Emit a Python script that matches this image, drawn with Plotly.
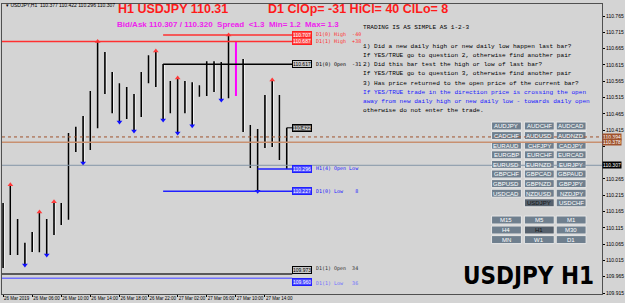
import plotly.graph_objects as go

# ---------------- data ----------------
bar_idx = list(range(40))  # H1 bars, 26 Mar 2019 02:00 .. 27 Mar 2019 17:00
opens = [110.078, 110.176, 110.090, 110.038, 110.053, 110.044, 110.139, 110.133, 110.191, 110.145,
         110.375, 110.369, 110.409, 110.474, 110.651, 110.575, 110.486, 110.510, 110.458, 110.523,
         110.590, 110.621, 110.617, 110.523, 110.566, 110.544, 110.550, 110.538, 110.547, 110.624,
         110.596, 110.535, 110.688, 110.535, 110.431, 110.305, 110.415, 110.461, 110.394, 110.377]
highs = [110.191, 110.247, 110.142, 110.069, 110.102, 110.164, 110.142, 110.195, 110.191, 110.406,
         110.425, 110.458, 110.535, 110.687, 110.655, 110.593, 110.559, 110.547, 110.526, 110.593,
         110.645, 110.658, 110.618, 110.566, 110.575, 110.566, 110.562, 110.553, 110.626, 110.626,
         110.624, 110.707, 110.688, 110.633, 110.431, 110.418, 110.523, 110.569, 110.523, 110.422]
lows = [109.992, 110.032, 110.032, 110.001, 110.041, 110.040, 110.032, 110.093, 110.124, 110.140,
        110.348, 110.314, 110.354, 110.421, 110.526, 110.467, 110.440, 110.449, 110.412, 110.455,
        110.559, 110.547, 110.446, 110.467, 110.406, 110.467, 110.428, 110.517, 110.520, 110.532,
        110.507, 110.513, 110.520, 110.409, 110.299, 110.227, 110.360, 110.363, 110.323, 110.296]
closes = [110.176, 110.090, 110.038, 110.053, 110.044, 110.139, 110.133, 110.191, 110.145, 110.375,
          110.369, 110.409, 110.474, 110.651, 110.575, 110.486, 110.510, 110.458, 110.523, 110.590,
          110.621, 110.618, 110.523, 110.566, 110.544, 110.550, 110.538, 110.547, 110.624, 110.596,
          110.535, 110.688, 110.535, 110.431, 110.305, 110.415, 110.461, 110.394, 110.377, 110.307]
highlight_bar = 32
fractal_up = [1, 5, 7, 13, 21, 24, 31, 37]
fractal_down = [3, 6, 11, 16, 18, 22, 24, 26, 30, 35]

x_tick_idx = [0, 4, 8, 12, 16, 20, 24, 28, 32, 36]
x_tick_text = ["26 Mar 2019", "26 Mar 06:00", "26 Mar 10:00", "26 Mar 14:00", "26 Mar 18:00",
               "26 Mar 22:00", "27 Mar 02:00", "27 Mar 06:00", "27 Mar 10:00", "27 Mar 14:00"]
y_ticks = [109.915, 109.965, 110.015, 110.065, 110.115, 110.165, 110.215, 110.265, 110.315,
           110.365, 110.415, 110.465, 110.515, 110.565, 110.615, 110.665, 110.715, 110.765]
y_hidden_labels = [110.315, 110.365]  # covered by price boxes on the axis

bid, ask = 110.307, 110.320
pivot_dotted = 110.394
pivot_solid = 110.378

# level lines: (name, price, start bar, color, box style, vertical anchor)
levels = [
    ("D1(0) High  -40", 110.707, 22, "#ff3030", "red", "middle"),
    ("D1(1) High  +38", 110.687, -0.3, "#ff3030", "red", "middle"),
    ("D1(0) Open  -31", 110.617, 22, "#000000", "black", "middle"),
    ("H1(4) Open Low", 110.296, 35, "#2020ff", "blue", "middle"),
    ("D1(0) Low    8", 110.227, 22, "#2020ff", "blue", "middle"),
    ("D1(1) Open  34", 109.973, -0.3, "#303030", "black", "bottom"),
    ("D1(1) Low   36", 109.960, -0.3, "#7070ff", "blue", "top"),
]
last_high = 110.422

pairs = [["AUDJPY", "AUDCHF", "AUDCAD"], ["CADCHF", "AUDUSD", "AUDNZD"], ["EURAUD", "CHFJPY", "CADJPY"],
         ["EURGBP", "EURCHF", "EURCAD"], ["EURUSD", "EURNZD", "EURJPY"], ["GBPCHF", "GBPCAD", "GBPAUD"],
         ["GBPUSD", "GBPNZD", "GBPJPY"], ["USDCAD", "NZDUSD", "NZDJPY"], [None, "USDJPY", "USDCHF"]]
timeframes = [["M15", "M5", "M1"], ["H4", "H1", "M30"], ["MN", "W1", "D1"]]

info_lines = [
    ("TRADING IS AS SIMPLE AS 1-2-3", "#000000"),
    ("", "#000000"),
    ("1) Did a new daily high or new daily low happen last bar?", "#000000"),
    ("If YES/TRUE go to question 2, otherwise find another pair", "#000000"),
    ("2) Did this bar test the high or low of last bar?", "#000000"),
    ("If YES/TRUE go to question 3, otherwise find another pair", "#000000"),
    ("3) Has price returned to the open price of the current bar?", "#000000"),
    ("If YES/TRUE trade in the direction price is crossing the open", "#1a1aff"),
    ("away from new daily high or new daily low - towards daily open", "#1a1aff"),
    ("otherwise do not enter the trade.", "#000000"),
]

# ---------------- layout geometry (pixels) ----------------
W, H = 625, 303
L, R, T, B = 1, 604, 4, 294
PX_PER_BAR = 7.31
x0 = -0.15
x1 = x0 + (R - L) / PX_PER_BAR
y_lo, y_hi = 109.912, 110.802


def pxx(x):
    return (x - L) / (R - L)


def pyy(y):
    return (B - y) / (B - T)


BG = "#d4d4d4"
fig = go.Figure()

norm = [i for i in bar_idx if i != highlight_bar]
fig.add_trace(go.Ohlc(
    x=[i + 0.14 for i in norm], open=[opens[i] for i in norm], high=[highs[i] for i in norm],
    low=[lows[i] for i in norm], close=[closes[i] for i in norm],
    increasing=dict(line=dict(color="#ffffff", width=1)),
    decreasing=dict(line=dict(color="#ffffff", width=1)),
    tickwidth=0.35, hoverinfo="skip", showlegend=False))
fig.add_trace(go.Ohlc(
    x=norm, open=[opens[i] for i in norm], high=[highs[i] for i in norm],
    low=[lows[i] for i in norm], close=[closes[i] for i in norm],
    increasing=dict(line=dict(color="#000000", width=1.6)),
    decreasing=dict(line=dict(color="#000000", width=1.6)),
    tickwidth=0.35, hoverinfo="skip", showlegend=False))
fig.add_trace(go.Ohlc(
    x=[highlight_bar, highlight_bar + 0.01], open=[opens[highlight_bar]] * 2, high=[highs[highlight_bar]] * 2,
    low=[lows[highlight_bar]] * 2, close=[closes[highlight_bar]] * 2,
    increasing=dict(line=dict(color="#ff00ff", width=1.8)),
    decreasing=dict(line=dict(color="#ff00ff", width=1.8)),
    tickwidth=0.35, hoverinfo="skip", showlegend=False))

fig.add_trace(go.Scatter(
    x=fractal_up, y=[highs[i] for i in fractal_up], mode="markers",
    marker=dict(symbol="triangle-up", size=5, color="#ff3b3b", line=dict(width=0)),
    hoverinfo="skip", showlegend=False))
fig.add_trace(go.Scatter(
    x=fractal_down, y=[lows[i] for i in fractal_down], mode="markers",
    marker=dict(symbol="triangle-down", size=5, color="#1010ff", line=dict(width=0)),
    hoverinfo="skip", showlegend=False))

shapes = []
ann = []

shapes.append(dict(type="line", xref="paper", yref="y", x0=0, x1=1, y0=pivot_dotted, y1=pivot_dotted,
                   line=dict(color="#a0522d", width=1, dash="dot")))
shapes.append(dict(type="line", xref="paper", yref="y", x0=0, x1=1, y0=pivot_solid, y1=pivot_solid,
                   line=dict(color="#c89070", width=1.5)))
shapes.append(dict(type="line", xref="paper", yref="y", x0=0, x1=1, y0=bid, y1=bid,
                   line=dict(color="#8496a8", width=1)))

END_X = 39.75
box_styles = {
    "red": dict(bgcolor="#ff4a4a", bordercolor="#ff2020", color="#ffffff"),
    "black": dict(bgcolor="#c8c8c8", bordercolor="#000000", color="#000000"),
    "blue": dict(bgcolor="#4a4aff", bordercolor="#2020ff", color="#ffffff"),
}
for name, price, start, color, style, va in levels:
    shapes.append(dict(type="line", xref="x", yref="y", x0=start, x1=END_X, y0=price, y1=price,
                       line=dict(color=color, width=1.5)))
    st = box_styles[style]
    ann.append(dict(xref="x", yref="y", x=END_X, y=price, xanchor="left", yanchor=va,
                    text=f"{price:.3f}", showarrow=False, bgcolor=st["bgcolor"], bordercolor=st["bordercolor"],
                    borderwidth=1, borderpad=0, font=dict(family="Liberation Sans", size=5, color=st["color"])))
    ann.append(dict(xref="x", yref="y", x=42.8, y=price, xanchor="left", yanchor=va,
                    text=name.replace(" ", "&nbsp;"), showarrow=False,
                    font=dict(family="DejaVu Sans Mono", size=5, color=color)))

shapes.append(dict(type="line", xref="x", yref="y", x0=39, x1=END_X, y0=last_high, y1=last_high,
                   line=dict(color="#000000", width=1)))
ann.append(dict(xref="x", yref="y", x=END_X, y=last_high, xanchor="left", yanchor="middle",
                text=f"{last_high:.3f}", showarrow=False, bgcolor="#5a5a5a", bordercolor="#000000",
                borderwidth=1, borderpad=0, font=dict(family="Liberation Sans", size=5, color="#ffffff")))

for price, bg, va in [(pivot_dotted, "#a0522d", "bottom"), (pivot_solid, "#a0522d", "top"),
                      (bid, "#000000", "middle")]:
    ann.append(dict(xref="paper", yref="y", x=1.0, y=price, xanchor="left", yanchor="middle",
                    text=f"{price:.3f}", showarrow=False, bgcolor=bg, borderpad=0,
                    font=dict(family="Liberation Sans", size=5, color="#ffffff")))

ann.append(dict(xref="paper", yref="paper", x=pxx(3), y=pyy(5.5), xanchor="left", yanchor="middle",
                text="▾ USDJPY,H1  110.377 110.422 110.296 110.307", showarrow=False,
                font=dict(family="Liberation Sans", size=5, color="#000000")))
ann.append(dict(xref="paper", yref="paper", x=pxx(116), y=pyy(9.5), xanchor="left", yanchor="middle",
                text="<b>H1 USDJPY 110.31</b>", showarrow=False,
                font=dict(family="Liberation Sans", size=12.5, color="#ff1a1a")))
ann.append(dict(xref="paper", yref="paper", x=pxx(266), y=pyy(9.5), xanchor="left", yanchor="middle",
                text="<b>D1 ClOp= -31 HiCl= 40 ClLo= 8</b>", showarrow=False,
                font=dict(family="Liberation Sans", size=12.5, color="#ff1a1a")))
ann.append(dict(xref="paper", yref="paper", x=pxx(115), y=pyy(24), xanchor="left", yanchor="middle",
                text="<b>Bid/Ask 110.307 / 110.320&nbsp;&nbsp;Spread&nbsp;&nbsp;&lt;1.3&nbsp;&nbsp;Min= 1.2&nbsp;&nbsp;Max= 1.3</b>",
                showarrow=False, font=dict(family="Liberation Sans", size=8, color="#ee22ee")))

for k, (line, col) in enumerate(info_lines):
    if not line:
        continue
    ann.append(dict(xref="paper", yref="paper", x=pxx(362), y=pyy(27.5 + 9.26 * k), xanchor="left",
                    yanchor="middle", text=line.replace(" ", "&nbsp;"), showarrow=False,
                    font=dict(family="Liberation Mono", size=6.1, color=col)))

col_x = [(493, 523), (526, 556), (558, 588)]
row_y = [122, 131.6, 141.2, 150.8, 160.4, 170, 179.6, 189.2, 198.8]
tf_y = [216, 226, 235.6]
selected = {"USDJPY", "H1"}


def button(label, x_a, x_b, y_a, y_b):
    sel = label in selected
    shapes.append(dict(type="rect", xref="paper", yref="paper", x0=pxx(x_a), x1=pxx(x_b),
                       y0=pyy(y_a), y1=pyy(y_b), layer="below",
                       fillcolor="#56616d" if sel else "#6f7f8e", line=dict(color="#e8e8e8", width=1)))
    ann.append(dict(xref="paper", yref="paper", x=pxx((x_a + x_b) / 2), y=pyy((y_a + y_b) / 2 + 0.3),
                    xanchor="center", yanchor="middle", text=label, showarrow=False,
                    font=dict(family="Liberation Sans", size=6, color="#151515" if sel else "#ffffff")))


for r, row in enumerate(pairs):
    for c, lab in enumerate(row):
        if lab:
            button(lab, col_x[c][0], col_x[c][1], row_y[r], row_y[r] + 8)
for r, row in enumerate(timeframes):
    for c, lab in enumerate(row):
        button(lab, col_x[c][0], col_x[c][1], tf_y[r], tf_y[r] + 8)

ann.append(dict(xref="paper", yref="paper", x=pxx(598), y=pyy(292), xanchor="right", yanchor="bottom",
                text="<b>USDJPY H1</b>", showarrow=False,
                font=dict(family="Liberation Sans Narrow, DejaVu Sans Condensed, Liberation Sans", size=24,
                          color="#000000")))

y_tick_text = ["" if v in y_hidden_labels else f"{v:.3f}" for v in y_ticks]

fig.update_layout(
    width=W, height=H, margin=dict(l=L, r=W - R, t=T, b=H - B),
    paper_bgcolor=BG, plot_bgcolor=BG, showlegend=False,
    shapes=shapes, annotations=ann,
    xaxis=dict(range=[x0, x1], tickvals=x_tick_idx, ticktext=x_tick_text, ticklabelposition="outside right",
               tickangle=0,
               tickfont=dict(family="Liberation Sans", size=4.5, color="#000000"), ticks="outside",
               ticklen=2, tickcolor="#000000", showgrid=False, zeroline=False, showline=True,
               linecolor="#505050", linewidth=1, mirror=True, rangeslider=dict(visible=False), fixedrange=True),
    yaxis=dict(range=[y_lo, y_hi], side="right", tickvals=y_ticks, ticktext=y_tick_text,
               tickfont=dict(family="Liberation Sans", size=5, color="#000000"), ticks="outside",
               ticklen=2, tickcolor="#000000", showgrid=False, zeroline=False, showline=True,
               linecolor="#505050", linewidth=1, mirror=True, fixedrange=True),
)

fig.write_html("out.html")
